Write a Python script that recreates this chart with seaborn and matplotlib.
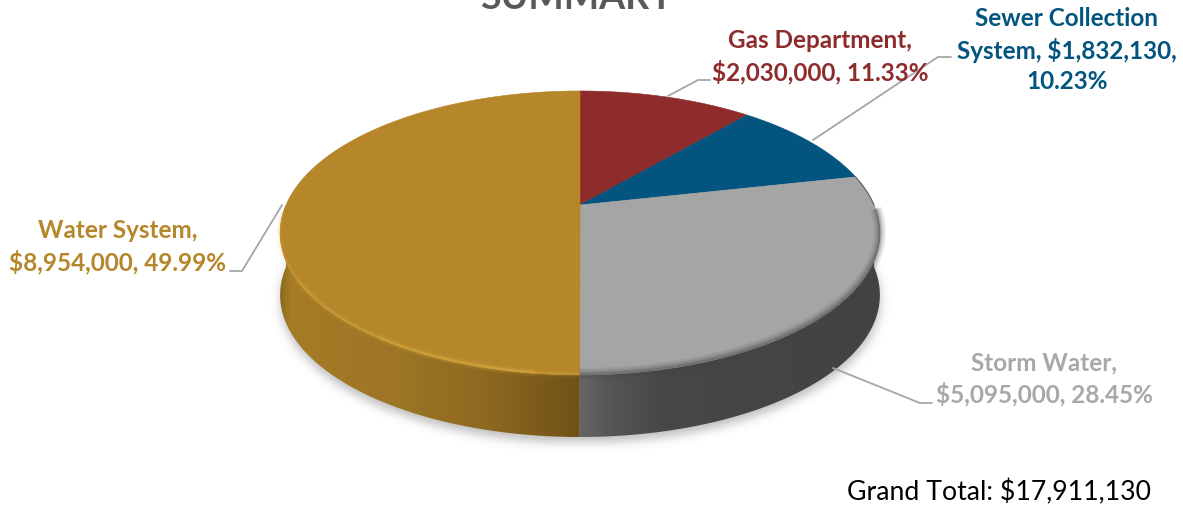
import numpy as np
import matplotlib
matplotlib.use("Agg")
import matplotlib.pyplot as plt
import seaborn as sns
from matplotlib.colors import LinearSegmentedColormap
from matplotlib.patches import PathPatch, Polygon
from matplotlib.path import Path

departments = ["Gas Department", "Sewer Collection System", "Storm Water", "Water System"]
budget = [2030000, 1832130, 5095000, 8954000]
face_colors = ["#8E2B2B", "#03557F", "#A5A5A5", "#B5862A"]
title = "SUMMARY"
grand_total = "Grand Total: $17,911,130"

sns.set_theme(style="white")
plt.rcParams["font.family"] = ["Lato", "DejaVu Sans"]

W, H = 1183, 508
fig = plt.figure(figsize=(W / 100, H / 100), dpi=100)
ax = fig.add_axes([0, 0, 1, 1])

# pie works out the wedge angles, the tilt is done afterwards
wedges, _ = ax.pie(budget, startangle=90, counterclock=False, colors=face_colors)
angles = [(w.theta1, w.theta2) for w in wedges]
for w in wedges:
    w.remove()
ax.set_aspect("auto")
ax.set_xlim(0, W)
ax.set_ylim(H, 0)
ax.axis("off")

CX, CY, RX, RY, TILT, DEPTH = 580, 205, 294, 136.5, 0.197, 62


def rim(theta1, theta2, drop=0.0, n=200):
    t = np.radians(np.linspace(theta1, theta2, n))
    w = 1 + TILT * np.sin(t)
    return np.column_stack([CX + RX * np.cos(t) / w, CY - RY * np.sin(t) / w + drop])


def blur(a, size):
    kernel = np.exp(-0.5 * (np.arange(-3 * size, 3 * size + 1) / size) ** 2)
    kernel /= kernel.sum()
    a = np.apply_along_axis(lambda r: np.convolve(r, kernel, mode="same"), 0, a)
    return np.apply_along_axis(lambda r: np.convolve(r, kernel, mode="same"), 1, a)


# soft shadow below the disc
outline = rim(0, 360, DEPTH + 5)
yy, xx = np.mgrid[0:H, 0:W]
inside = Path(outline).contains_points(np.column_stack([xx.ravel(), yy.ravel()])).reshape(H, W)
shadow = np.zeros((H, W, 4))
shadow[..., :3] = 0.35
shadow[..., 3] = blur(inside.astype(float), 5) * 0.4
ax.imshow(shadow, extent=(0, W, H, 0), aspect="auto", zorder=1, interpolation="bilinear")

# front wall, shaded left to right
wall_gold = LinearSegmentedColormap.from_list(
    "gold", [(0, "#8E6A20"), (0.03, "#A67C25"), (0.4, "#9C7525"), (0.7, "#8C681F"), (1, "#705218")]
)
wall_gray = LinearSegmentedColormap.from_list(
    "gray", [(0, "#656565"), (0.1, "#555555"), (0.28, "#474747"), (1, "#424242")]
)
ramp = np.linspace(0, 1, 300)[None, :]
split = angles[2][0]  # storm water / water system edge, at the front
split_x = rim(split, split, n=1)[0, 0]
for (t1, t2), cmap, x0, x1 in [
    ((-180, split), wall_gold, 280, split_x),
    ((split, 0), wall_gray, split_x, 880),
]:
    side = np.vstack([rim(t1, t2), rim(t1, t2, DEPTH)[::-1]])
    patch = Polygon(side, closed=True, facecolor="none", edgecolor="none", zorder=2)
    ax.add_patch(patch)
    im = ax.imshow(ramp, cmap=cmap, extent=(x0, x1, H, 0), aspect="auto", zorder=2)
    im.set_clip_path(patch)
ax.set_xlim(0, W)
ax.set_ylim(H, 0)

# top of the disc
for (t1, t2), color in zip(angles, face_colors):
    pts = np.vstack([[[CX, CY]], rim(t1, t2)])
    ax.add_patch(PathPatch(Path(np.vstack([pts, pts[:1]]), closed=True), facecolor=color, edgecolor=color, lw=0.4, zorder=3))

# rounded edge: dark blur on the gray part, bright line on the gold part
front_gray = rim(split, -2)
for lw, alpha in [(9, 0.07), (7, 0.09), (5, 0.12), (3, 0.16), (1.5, 0.2)]:
    ax.plot(front_gray[:, 0], front_gray[:, 1] - 1, color="#444444", lw=lw, alpha=alpha, zorder=4, solid_capstyle="butt")
ax.plot(*rim(0, angles[1][0]).T, color="#666666", lw=0.9, zorder=4)

for t1, t2, strength in [(-177, -150, 0.4), (-150, -125, 0.7), (-125, -97, 1.0), (-97, split, 0.5)]:
    front_gold = rim(t1, t2)
    for lw, alpha in [(6, 0.10), (3.5, 0.18), (1.6, 0.45)]:
        ax.plot(front_gold[:, 0], front_gold[:, 1] - 1, color="#DDAE42", lw=lw, alpha=alpha * strength, zorder=4, solid_capstyle="butt")

# data labels with leader lines
labels = [
    ("Gas Department,\n$2,030,000, 11.33%", 820, 57, "#8E2B2B", [(668, 96), (698, 80), (710, 80)]),
    ("Sewer Collection\nSystem, $1,832,130,\n10.23%", 1067, 50, "#03557F", [(813, 140), (938, 57), (951, 57)]),
    ("Storm Water,\n$5,095,000, 28.45%", 1044, 379, "#A8A8A8", [(833, 368), (920, 403), (932, 403)]),
    ("Water System,\n$8,954,000, 49.99%", 118, 247, "#B5862A", [(282, 205), (242, 271), (230, 271)]),
]
for text, x, y, color, leader in labels:
    ax.text(x, y, text, color=color, fontsize=17.5, fontweight="bold", ha="center", va="center", linespacing=1.38, zorder=6, multialignment="center")
    ax.plot(*zip(*leader), color="#A6A6A6", lw=1.3, zorder=5)

ax.text(577, 9, title, color="#595959", fontsize=27, fontweight="bold", ha="center", va="baseline", zorder=6)
ax.text(847, 492, grand_total, color="black", fontsize=19.2, ha="left", va="center", zorder=6)

fig.savefig("out.png", dpi=100)
